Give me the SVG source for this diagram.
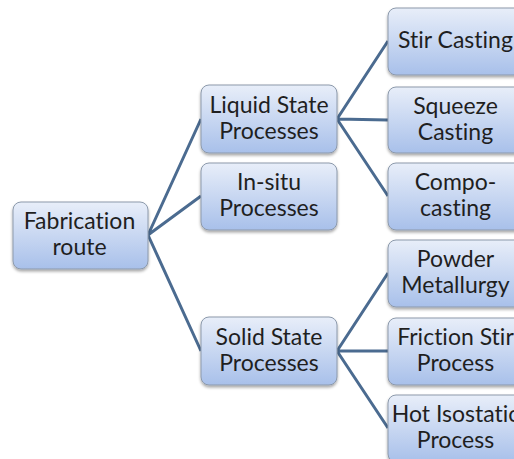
<svg xmlns="http://www.w3.org/2000/svg" width="514" height="459" viewBox="0 0 514 459">
<defs>
<linearGradient id="g" x1="0" y1="0" x2="0" y2="1">
<stop offset="0" stop-color="#E8EEF9"/>
<stop offset="1" stop-color="#A8C0EA"/>
</linearGradient>
<filter id="sh" x="-10%" y="-10%" width="120%" height="130%">
<feGaussianBlur in="SourceAlpha" stdDeviation="1.5"/>
<feOffset dx="0" dy="2" result="b"/>
<feComponentTransfer><feFuncA type="linear" slope="0.35"/></feComponentTransfer>
<feMerge><feMergeNode/><feMergeNode in="SourceGraphic"/></feMerge>
</filter>
</defs>
<style>
.box{fill:url(#g);stroke:#8C99AB;stroke-width:1;filter:url(#sh)}
.t{font-family:Lato,"Liberation Sans",sans-serif;font-size:23px;fill:#1f1f1f;text-anchor:middle;font-variant-ligatures:none}
.c{stroke:#4B6B90;stroke-width:3;fill:none}
</style>
<rect width="514" height="459" fill="#fff"/>
<g id="connectors">
<path class="c" d="M148 235 L201 119 M148 235 L201 196 M148 235 L201 351"/>
<path class="c" d="M337 119 L388 41 M337 119 L388 120 M337 119 L388 196"/>
<path class="c" d="M337 351 L388 273 M337 351 L388 351 M337 351 L388 428"/>
</g>
<g id="fabrication">
<rect class="box" x="13" y="202" width="135" height="67" rx="8"/>
<text class="t" x="79.5" y="229">Fabrication</text>
<text class="t" x="79.5" y="255">route</text>
</g>
<g id="liquid">
<rect class="box" x="201" y="85" width="136" height="68" rx="8"/>
<text class="t" x="269" y="112.5">Liquid State</text>
<text class="t" x="269" y="138.5">Processes</text>
</g>
<g id="insitu">
<rect class="box" x="201" y="163" width="136" height="67" rx="8"/>
<text class="t" x="269" y="190">In-situ</text>
<text class="t" x="269" y="216">Processes</text>
</g>
<g id="solid">
<rect class="box" x="201" y="317" width="136" height="68" rx="8"/>
<text class="t" x="269" y="344.5">Solid State</text>
<text class="t" x="269" y="370.5">Processes</text>
</g>
<g id="stir">
<rect class="box" x="388" y="8" width="136" height="67" rx="8"/>
<text class="t" x="455.5" y="48">Stir Casting</text>
</g>
<g id="squeeze">
<rect class="box" x="388" y="87" width="136" height="66" rx="8"/>
<text class="t" x="455.5" y="113.5">Squeeze</text>
<text class="t" x="455.5" y="139.5">Casting</text>
</g>
<g id="compo">
<rect class="box" x="388" y="163" width="136" height="67" rx="8"/>
<text class="t" x="455.5" y="190">Compo-</text>
<text class="t" x="455.5" y="216">casting</text>
</g>
<g id="powder">
<rect class="box" x="388" y="240" width="136" height="67" rx="8"/>
<text class="t" x="455.5" y="267">Powder</text>
<text class="t" x="455.5" y="293">Metallurgy</text>
</g>
<g id="friction">
<rect class="box" x="388" y="318" width="136" height="67" rx="8"/>
<text class="t" x="455.5" y="345">Friction Stir</text>
<text class="t" x="455.5" y="371">Process</text>
</g>
<g id="hot">
<rect class="box" x="388" y="395" width="136" height="67" rx="8"/>
<text class="t" x="455.5" y="422">Hot Isostatic</text>
<text class="t" x="455.5" y="448">Process</text>
</g>
</svg>
